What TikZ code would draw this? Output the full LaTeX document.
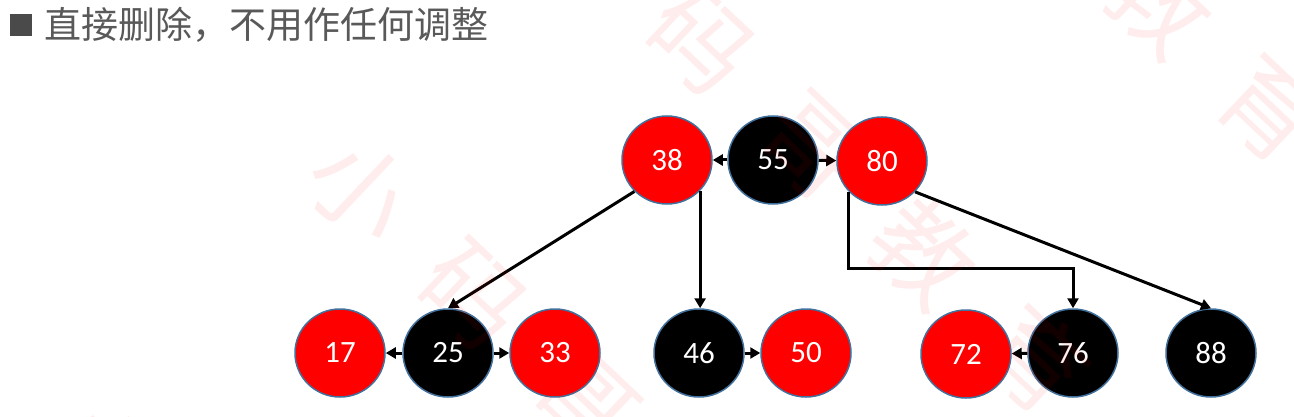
\documentclass[tikz,border=0pt]{standalone}
\usepackage{fontspec}
\setmainfont{Carlito}
\newfontfamily\cjk{Noto Sans CJK SC}
\usetikzlibrary{arrows.meta,shapes.geometric,calc}
\definecolor{nodeedge}{HTML}{41719C}
\definecolor{titlegray}{HTML}{595959}
\definecolor{bulletgray}{HTML}{4A4A4A}
\definecolor{rbred}{HTML}{FF0000}
\tikzset{
  keynode/.style={ellipse, draw=nodeedge, line width=1.5pt, minimum width=90pt, minimum height=88pt,
    inner sep=0pt, text=white, font=\fontsize{31}{36}\selectfont},
  rednode/.style={keynode, fill=rbred},
  blacknode/.style={keynode, fill=black},
  link/.style={line width=3pt, -{Triangle[length=10pt,width=11pt]}},
  wm/.style={text=red, text opacity=0.07, font=\cjk\fontsize{100}{100}\selectfont, rotate=-43.4, inner sep=0pt}
}
\begin{document}
\begin{tikzpicture}[x=1pt,y=-1pt]
\useasboundingbox (0,0) rectangle (1294,417);
\fill[white] (0,0) rectangle (1294,417);
% title
\node[fill=bulletgray, minimum size=22pt, inner sep=0pt] (bullet) at (21,25) {};
\node[anchor=base west, inner sep=0pt, text=titlegray, font=\cjk\fontsize{37}{44}\selectfont] (title) at (44,39) {直接删除，不用作任何调整};
% top node
\node[rednode] (n38) at (667,160) {38};
\node[blacknode] (n55) at (773,160) {55};
\node[rednode] (n80) at (882,161) {80};
% children
\node[rednode] (n17) at (340,353) {17};
\node[blacknode] (n25) at (448,353) {25};
\node[rednode] (n33) at (555,353) {33};
\node[blacknode] (n46) at (699,353) {46};
\node[rednode] (n50) at (806,353) {50};
\node[rednode] (n72) at (966,354) {72};
\node[blacknode] (n76) at (1073,353) {76};
\node[blacknode] (n88) at (1211,353) {88};
% sibling links
\draw[link] (n55) -- (n38);
\draw[link] (n55) -- (n80);
\draw[link] (n25) -- (n17);
\draw[link] (n25) -- (n33);
\draw[link] (n46) -- (n50);
\draw[link] (n76) -- (n72);
% child links
\draw[link] (n38.224) -- (n25.north);
\draw[link] (n38.317) -- (n38.317 |- n46.north);
\coordinate (bend) at (850,268);
\draw[link] (n80.223) -- (n80.223 |- bend) -| (n76.north);
\draw[link] (n80.317) -- (n88.north);
% watermark
\foreach \ch [count=\i from 1] in {码,哥,教,育}{
  \node[wm] (wa\i) at ($(588,-65)+\i*(112,106)$) {\ch};
}
\foreach \ch [count=\i from 0] in {小,码,哥}{
  \node[wm] (wb\i) at ($(360,190)+\i*(112,106)$) {\ch};
}
\node[wm] (wc3) at (1160,2) {教};
\node[wm] (wc4) at (1272,108) {育};
\node[wm] (wd0) at (100,452) {小};
\end{tikzpicture}
\end{document}
